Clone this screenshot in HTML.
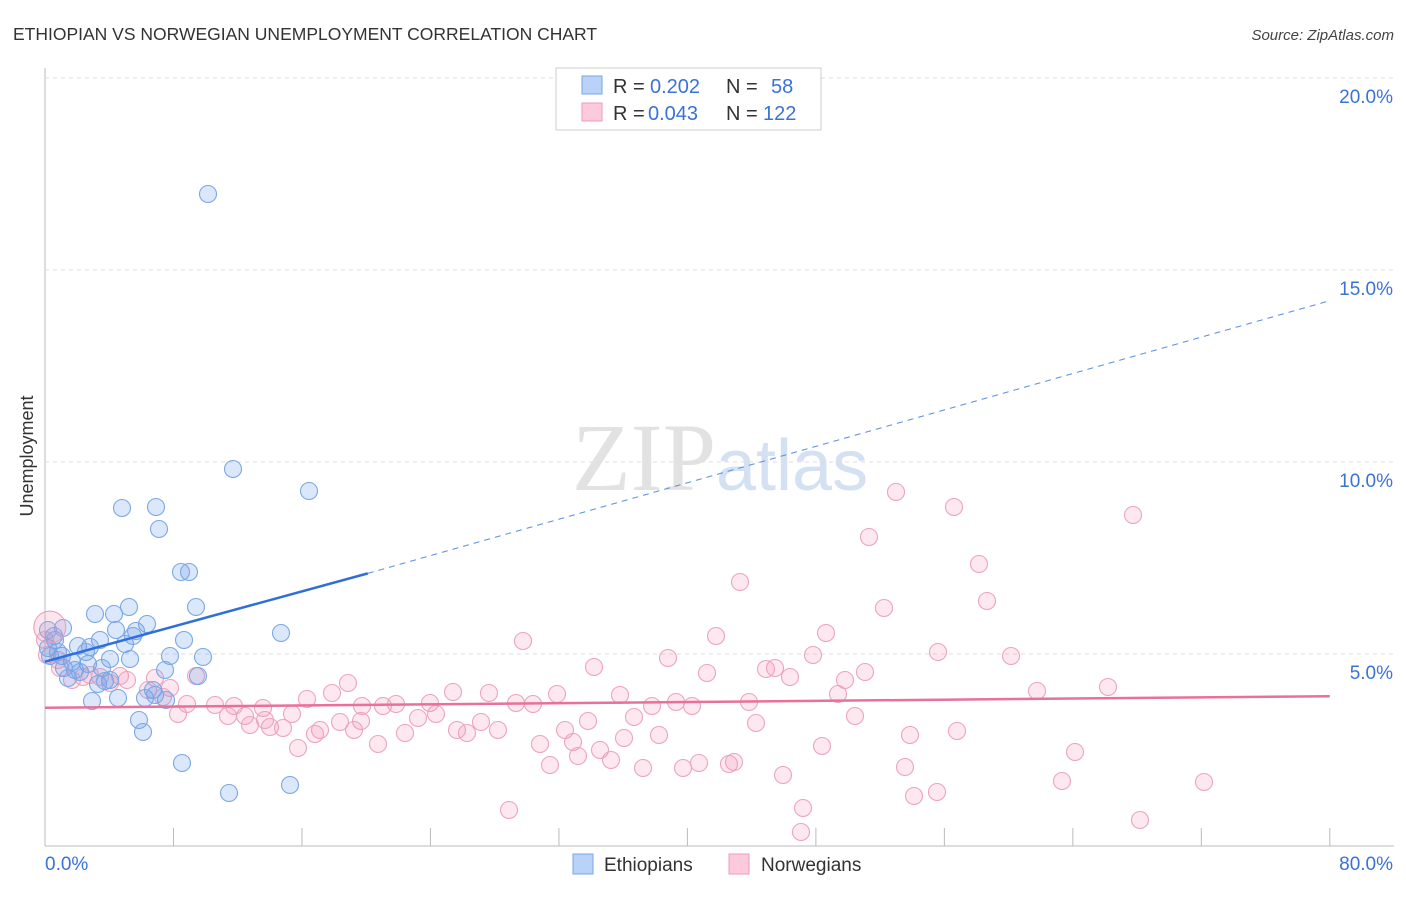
<!DOCTYPE html>
<html><head><meta charset="utf-8"><style>
body{margin:0;background:#fff;font-family:"Liberation Sans",sans-serif;}
</style></head><body>
<svg id="c" width="1406" height="892" xmlns="http://www.w3.org/2000/svg" font-family="Liberation Sans, sans-serif">
<text x="13" y="40" font-size="17.5" fill="#333">ETHIOPIAN VS NORWEGIAN UNEMPLOYMENT CORRELATION CHART</text>
<text x="1394" y="40" font-size="15" fill="#444" text-anchor="end" font-style="italic">Source: ZipAtlas.com</text>
<text x="716" y="490" font-size="96" fill="#e2e2e2" text-anchor="end" font-family="Liberation Serif, serif">ZIP</text>
<text x="716" y="490" font-size="72" fill="#d3e1f3">atlas</text>
<text transform="translate(33,456) rotate(-90)" font-size="18" fill="#333" text-anchor="middle">Unemployment</text>
<g id="grid"></g><g id="marks"></g>
<g>
<rect x="556" y="68" width="265" height="62" fill="#fff" stroke="#ccc"/>
<rect x="582" y="76" width="20" height="18" fill="#b8d3f7" stroke="#7aa6e6"/>
<rect x="582" y="103" width="20" height="18" fill="#fccadb" stroke="#ee9bb6"/>
<text x="613" y="93" font-size="20" fill="#333">R =</text>
<text x="650" y="93" font-size="20" fill="#3a72d8">0.202</text>
<text x="726" y="93" font-size="20" fill="#333">N =</text>
<text x="771" y="93" font-size="20" fill="#3a72d8">58</text>
<text x="613" y="120" font-size="20" fill="#333">R =</text>
<text x="648" y="120" font-size="20" fill="#3a72d8">0.043</text>
<text x="726" y="120" font-size="20" fill="#333">N =</text>
<text x="763" y="120" font-size="20" fill="#3a72d8">122</text>
</g>
<g>
<rect x="573" y="854" width="20" height="20" fill="#b8d3f7" stroke="#7aa6e6"/>
<text x="604" y="871" font-size="19" fill="#333">Ethiopians</text>
<rect x="729" y="854" width="20" height="20" fill="#fccadb" stroke="#ee9bb6"/>
<text x="761" y="871" font-size="19" fill="#333">Norwegians</text>
</g>
</svg>
<script>
const yTicks=[5,10,15,20];
const xLabels=["0.0%","80.0%"];
const bluePts=[[208,194],[233,469],[309,491],[122,508],[156,507],[159,529],[181,572],[189,572],[196,607],[129,607],[95,614],[114,614],[147,624],[136,631],[116,630],[100,640],[184,640],[281,633],[63,628],[55,640],[78,646],[90,647],[125,644],[48,648],[50,656],[62,656],[86,652],[110,659],[130,659],[170,656],[203,657],[72,662],[88,664],[102,668],[64,668],[75,670],[165,670],[198,676],[68,678],[98,684],[105,681],[153,690],[145,698],[166,700],[92,701],[118,698],[139,720],[143,732],[182,763],[229,793],[290,785],[54,636],[58,652],[80,672],[110,680],[133,636],[48,630],[155,695]];
const pinkPts=[[896,492],[954,507],[1133,515],[869,537],[740,582],[979,564],[987,601],[884,608],[716,636],[826,633],[523,641],[594,667],[668,658],[707,673],[766,669],[775,668],[813,655],[790,677],[865,672],[938,652],[1011,656],[845,680],[838,694],[749,702],[1037,691],[1108,687],[620,695],[557,694],[489,693],[453,692],[430,703],[516,703],[533,704],[676,702],[692,706],[652,706],[634,717],[756,723],[855,716],[396,704],[383,706],[362,706],[332,693],[348,683],[307,699],[292,714],[263,708],[245,716],[234,706],[228,716],[215,705],[187,704],[178,714],[196,676],[163,697],[148,690],[127,680],[110,683],[90,675],[72,680],[60,668],[83,677],[100,677],[120,676],[155,678],[170,688],[250,725],[270,727],[283,728],[265,720],[320,730],[340,722],[361,721],[354,730],[298,748],[315,734],[378,744],[405,733],[418,718],[436,714],[457,730],[467,733],[481,722],[498,730],[540,744],[565,730],[573,742],[588,721],[600,750],[611,760],[624,738],[659,735],[550,765],[578,756],[643,768],[683,768],[699,763],[729,764],[734,762],[783,775],[822,746],[910,735],[957,731],[1075,752],[905,767],[937,792],[914,796],[803,808],[801,832],[1062,781],[1204,782],[1140,820],[509,810],[45,640],[58,660],[47,655]].map(p=>[(p[0]-45)/16.06,(846-p[1])/38.4]);
const blueData=bluePts.map(p=>[(p[0]-45)/16.06,(846-p[1])/38.4]);
const blueTrend=[[0,4.8],[20.1,7.1],[80,14.2]];
const pinkTrend=[[0,3.6],[80,3.9]];
const X=v=>45+v*16.06, Y=v=>846-v*38.4;
const NS="http://www.w3.org/2000/svg";
function mk(t,a,p){const e=document.createElementNS(NS,t);for(const k in a)e.setAttribute(k,a[k]);p.appendChild(e);return e;}
const g=document.getElementById('grid'),m=document.getElementById('marks');
let ax=mk('line',{x1:45,y1:68,x2:45,y2:846,stroke:'#bbb'},g);

let bx=mk('line',{x1:45,y1:846,x2:1394,y2:846,stroke:'#bbb'},g);

yTicks.forEach(t=>{const l=mk('line',{x1:45,x2:1394,y1:Y(t),y2:Y(t),stroke:'#ddd','stroke-dasharray':'4,4'},g);

const tx=mk('text',{x:1393,y:Y(t)+25,'font-size':19,fill:'#3a72d8','text-anchor':'end'},g);tx.textContent=t.toFixed(1)+'%';
});
for(let i=0;i<=10;i++){const l=mk('line',{x1:X(i*8),x2:X(i*8),y1:828,y2:846,stroke:'#bbb'},g);
}
[[0,45,'start'],[1,1393,'end']].forEach(([i,x,a])=>{const t=mk('text',{x:x,y:870,'font-size':19,fill:'#3a72d8','text-anchor':a},g);t.textContent=xLabels[i];
});
pinkPts.forEach(p=>{const c=mk('circle',{cx:X(p[0]),cy:Y(p[1]),r:8.5,fill:'rgba(245,150,180,0.22)',stroke:'#eda3bc','stroke-width':1.1},m);
});
blueData.forEach(p=>{const c=mk('circle',{cx:X(p[0]),cy:Y(p[1]),r:8.5,fill:'rgba(110,160,235,0.25)',stroke:'#7ba7e6','stroke-width':1.1},m);
});
let big=mk('circle',{cx:X(0.3),cy:Y(5.7),r:16,fill:'rgba(245,150,180,0.25)',stroke:'#eb9ab5'},m);

let l1=mk('line',{x1:X(blueTrend[0][0]),y1:Y(blueTrend[0][1]),x2:X(blueTrend[1][0]),y2:Y(blueTrend[1][1]),stroke:'#2f6fd6','stroke-width':2.5},m);

let l2=mk('line',{x1:X(blueTrend[1][0]),y1:Y(blueTrend[1][1]),x2:X(blueTrend[2][0]),y2:Y(blueTrend[2][1]),stroke:'#5b8fe0','stroke-width':1,'stroke-dasharray':'6,5'},m);

let l3=mk('line',{x1:X(pinkTrend[0][0]),y1:Y(pinkTrend[0][1]),x2:X(pinkTrend[1][0]),y2:Y(pinkTrend[1][1]),stroke:'#e8709a','stroke-width':2.5},m);

</script>
</body></html>
